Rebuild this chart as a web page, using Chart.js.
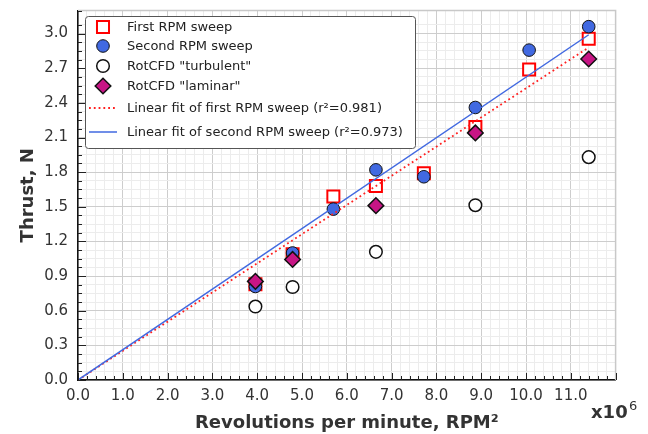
<!DOCTYPE html>
<html>
<head>
<meta charset="utf-8">
<script src="https://cdn.jsdelivr.net/npm/chart.js"></script>
<style>
    body { margin: 0; background: #fff; }
</style>
</head>
<body>
<canvas id="thrustChart" width="648" height="434"></canvas>
<script>
    // RPM^2 (x10^6) 값
    const rpmSq = [3.96, 4.79, 5.70, 6.65, 7.72, 8.87, 10.07, 11.40];
    const firstSweep = [0.83, 1.09, 1.59, 1.68, 1.79, 2.19, 2.69, 2.955];
    const secondSweep = [0.81, 1.10, 1.48, 1.82, 1.76, 2.36, 2.857, 3.06];

    // RotCFD 결과
    const cfdRpmSq = [3.96, 4.79, 6.65, 8.87, 11.40];
    const cfdTurbulent = [0.636, 0.805, 1.11, 1.514, 1.93];
    const cfdLaminar = [0.854, 1.044, 1.51, 2.14, 2.78];

    // 선형 근사선 (양 끝점)
    const fitRpmSq = [0, 11.4];
    const firstFit = [0, 2.88];
    const secondFit = [0, 2.99];

    const xMax = 12;
    const yMax = 3.2;
    const xMajor = 1, xMinor = 0.2;
    const yMajor = 0.3, yMinor = 0.075;

    function toPoints(xs, ys) {
        return xs.map(function(x, i) { return {x: x, y: ys[i]}; });
    }
    function isMultiple(v, step) {
        return Math.abs(v / step - Math.round(v / step)) < 1e-6;
    }

    const FONT = "'DejaVu Sans', sans-serif";
    const TEXT = '#333333';

    // 눈금, 테두리, 범례, 배율 표시
    const decorations = {
        id: 'decorations',
        afterDraw(chart) {
            const ctx = chart.ctx;
            const a = chart.chartArea;
            const xs = chart.scales.x, ys = chart.scales.y;
            ctx.save();

            // 위/오른쪽 회색 테두리
            ctx.strokeStyle = '#c8c8c8';
            ctx.lineWidth = 1.5;
            ctx.beginPath();
            ctx.moveTo(a.left, a.top);
            ctx.lineTo(a.right, a.top);
            ctx.lineTo(a.right, a.bottom);
            ctx.stroke();

            // 안쪽 방향 눈금
            ctx.strokeStyle = '#222';
            ctx.lineWidth = 1;
            ctx.beginPath();
            xs.ticks.forEach(function(t) {
                const px = Math.round(xs.getPixelForValue(t.value)) + 0.5;
                const len = isMultiple(t.value, xMajor) ? 7 : 4;
                ctx.moveTo(px, a.bottom);
                ctx.lineTo(px, a.bottom - len);
            });
            ys.ticks.forEach(function(t) {
                const py = Math.round(ys.getPixelForValue(t.value)) + 0.5;
                const len = isMultiple(t.value, yMajor) ? 8 : 4;
                ctx.moveTo(a.left, py);
                ctx.lineTo(a.left + len, py);
            });
            ctx.stroke();

            // x10^6
            ctx.fillStyle = TEXT;
            ctx.textBaseline = 'alphabetic';
            ctx.textAlign = 'left';
            ctx.font = 'bold 18px ' + FONT;
            ctx.fillText('x10', 591, 418);
            ctx.font = '13px ' + FONT;
            ctx.fillText('6', 629, 410);

            // 범례
            const box = {left: 85.5, top: 16.5, width: 330, height: 132};
            ctx.fillStyle = '#ffffff';
            ctx.strokeStyle = '#555555';
            ctx.lineWidth = 1;
            ctx.beginPath();
            ctx.roundRect(box.left, box.top, box.width, box.height, 3);
            ctx.fill();
            ctx.stroke();

            const rowY = [27, 46, 66, 86, 108, 132];
            const markX = 103;
            ctx.font = '13px ' + FONT;
            ctx.textAlign = 'left';
            ctx.textBaseline = 'middle';
            chart.data.datasets.forEach(function(ds, i) {
                const y = rowY[i];
                ctx.save();
                if (ds.showLine) {
                    ctx.strokeStyle = ds.borderColor;
                    ctx.lineWidth = ds.borderWidth;
                    ctx.setLineDash(ds.borderDash || []);
                    ctx.beginPath();
                    ctx.moveTo(markX - 14, y);
                    ctx.lineTo(markX + 14, y);
                    ctx.stroke();
                } else {
                    ctx.fillStyle = ds.pointBackgroundColor;
                    ctx.strokeStyle = ds.pointBorderColor;
                    ctx.lineWidth = ds.pointBorderWidth;
                    const r = ds.pointRadius;
                    ctx.beginPath();
                    if (ds.pointStyle === 'rect') {
                        const s = Math.SQRT1_2 * r;
                        ctx.rect(markX - s, y - s, 2 * s, 2 * s);
                    } else if (ds.pointStyle === 'rectRot') {
                        ctx.moveTo(markX - r, y);
                        ctx.lineTo(markX, y - r);
                        ctx.lineTo(markX + r, y);
                        ctx.lineTo(markX, y + r);
                        ctx.closePath();
                    } else {
                        ctx.arc(markX, y, r, 0, Math.PI * 2);
                    }
                    ctx.fill();
                    ctx.stroke();
                }
                ctx.restore();
                ctx.fillStyle = '#222';
                ctx.fillText(ds.label, 127, y + 1);
            });
            ctx.restore();
        }
    };

    const ctx = document.getElementById('thrustChart');
    const chart = new Chart(ctx, {
        type: 'scatter',
        data: {
            datasets: [{
                label: 'First RPM sweep',
                data: toPoints(rpmSq, firstSweep),
                pointStyle: 'rect',
                pointRadius: 8.5,
                pointBackgroundColor: '#ffffff',
                pointBorderColor: '#ff0000',
                pointBorderWidth: 2,
                order: 6
            }, {
                label: 'Second RPM sweep',
                data: toPoints(rpmSq, secondSweep),
                pointStyle: 'circle',
                pointRadius: 6.3,
                pointBackgroundColor: '#4169e1',
                pointBorderColor: '#111111',
                pointBorderWidth: 1,
                order: 5
            }, {
                label: 'RotCFD "turbulent"',
                data: toPoints(cfdRpmSq, cfdTurbulent),
                pointStyle: 'circle',
                pointRadius: 6.3,
                pointBackgroundColor: '#ffffff',
                pointBorderColor: '#111111',
                pointBorderWidth: 1.5,
                order: 4
            }, {
                label: 'RotCFD "laminar"',
                data: toPoints(cfdRpmSq, cfdLaminar),
                pointStyle: 'rectRot',
                pointRadius: 7.8,
                pointBackgroundColor: '#c71585',
                pointBorderColor: '#111111',
                pointBorderWidth: 1.5,
                order: 3
            }, {
                label: 'Linear fit of first RPM sweep (r\u00b2=0.981)',
                data: toPoints(fitRpmSq, firstFit),
                showLine: true,
                pointRadius: 0,
                borderColor: '#ff2020',
                borderWidth: 1.8,
                borderDash: [1.8, 3],
                order: 2
            }, {
                label: 'Linear fit of second RPM sweep (r\u00b2=0.973)',
                data: toPoints(fitRpmSq, secondFit),
                showLine: true,
                pointRadius: 0,
                borderColor: '#4169e1',
                borderWidth: 1.5,
                order: 1
            }]
        },
        options: {
            responsive: false,
            animation: false,
            layout: {
                padding: {top: 9.5, right: 32.4, left: 0, bottom: 0}
            },
            plugins: {
                legend: {display: false},
                tooltip: {enabled: false}
            },
            scales: {
                x: {
                    type: 'linear',
                    min: 0,
                    max: xMax,
                    afterFit: function(scale) {
                        scale.height = 54;
                        scale.paddingLeft = 0;
                        scale.paddingRight = 0;
                    },
                    border: {color: '#111', width: 1.5},
                    grid: {
                        drawTicks: false,
                        color: function(c) {
                            if (!c.tick) return '#ececec';
                            return isMultiple(c.tick.value, xMajor) ? '#cdcdcd' : '#ececec';
                        },
                        lineWidth: 1
                    },
                    ticks: {
                        stepSize: xMinor,
                        autoSkip: false,
                        maxRotation: 0,
                        padding: 7,
                        color: TEXT,
                        font: {family: FONT, size: 15},
                        callback: function(v) {
                            return (isMultiple(v, xMajor) && v < xMax - 0.5) ? v.toFixed(1) : '';
                        }
                    },
                    title: {
                        display: true,
                        text: 'Revolutions per minute, RPM\u00b2',
                        color: TEXT,
                        font: {family: FONT, size: 18, weight: 'bold'},
                        padding: {top: 0, bottom: 0}
                    }
                },
                y: {
                    type: 'linear',
                    min: 0,
                    max: yMax,
                    afterFit: function(scale) {
                        scale.width = 78;
                        scale.paddingTop = 0;
                        scale.paddingBottom = 0;
                    },
                    border: {color: '#111', width: 1.5},
                    grid: {
                        drawTicks: false,
                        color: function(c) {
                            if (!c.tick) return '#ececec';
                            return isMultiple(c.tick.value, yMajor) ? '#cdcdcd' : '#ececec';
                        },
                        lineWidth: 1
                    },
                    ticks: {
                        stepSize: yMinor,
                        autoSkip: false,
                        padding: 10,
                        color: TEXT,
                        font: {family: FONT, size: 15},
                        callback: function(v) {
                            return isMultiple(v, yMajor) ? v.toFixed(1) : '';
                        }
                    },
                    title: {
                        display: true,
                        text: 'Thrust, N',
                        color: TEXT,
                        font: {family: FONT, size: 18, weight: 'bold'},
                        padding: {top: 18, bottom: 0}
                    }
                }
            }
        },
        plugins: [decorations]
    });
</script>
</body>
</html>
